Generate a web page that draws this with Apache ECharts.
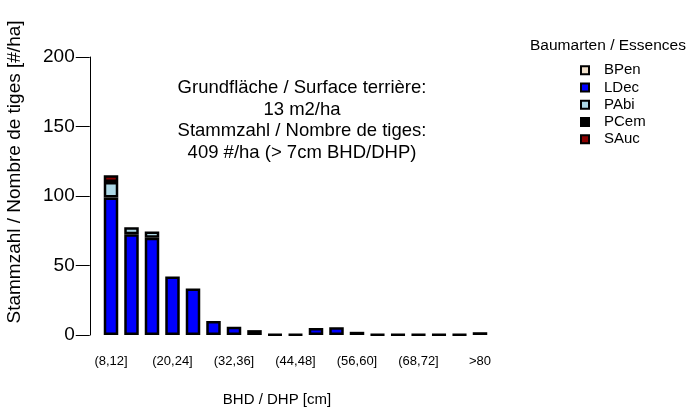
<!DOCTYPE html>
<html>
<head>
<meta charset="utf-8">
<script src="https://cdn.jsdelivr.net/npm/echarts@6/dist/echarts.min.js"></script>
<style>html,body{margin:0;padding:0;background:#fff}#c{width:689px;height:408px}</style>
</head>
<body>
<div id="c"></div>
<script>
const categories = ['(8,12]','(12,16]','(16,20]','(20,24]','(24,28]','(28,32]','(32,36]','(36,40]','(40,44]','(44,48]','(48,52]','(52,56]','(56,60]','(60,64]','(64,68]','(68,72]','(72,76]','(76,80]','>80'];
const speciesNames = ['BPen','LDec','PAbi','PCem','SAuc'];
const BPen = [null,null,null,null,null,null,null,null,null,null,null,null,null,null,null,null,null,null,null];
const LDec = [99,72.5,70,42,33.5,10,6,3.5,0.4,0.4,5,5.5,2.3,0.3,0.3,0.3,0.3,0.3,2];
const PAbi = [11,5,4.5,null,null,null,null,null,null,null,null,null,null,null,null,null,null,null,null];
const PCem = [null,null,null,null,null,null,null,null,null,null,null,null,null,null,null,null,null,null,null];
const SAuc = [5,null,null,null,null,null,null,null,null,null,null,null,null,null,null,null,null,null,null];
const yTicks = [0,50,100,150,200];
const infoLines = ['Grundfläche / Surface terrière:','13 m2/ha','Stammzahl / Nombre de tiges:','409 #/ha (> 7cm BHD/DHP)'];
const yTitle = 'Stammzahl / Nombre de tiges [#/ha]';
const xTitle = 'BHD / DHP [cm]';
const legendTitle = 'Baumarten / Essences';

const FONT = '"Liberation Sans", Arial, Helvetica, sans-serif';
const colors = {BPen:'#F2E2CC', LDec:'#0000FF', PAbi:'#ADD8E6', PCem:'#000000', SAuc:'#8B0000'};
const seriesData = {BPen, LDec, PAbi, PCem, SAuc};

const chart = echarts.init(document.getElementById('c'), null, {renderer:'canvas'});
const series = speciesNames.map(n => ({
  name: n,
  type: 'bar',
  stack: 'all',
  barWidth: 14.5,
  data: seriesData[n].map(v => v == null ? '-' : v),
  itemStyle: {color: colors[n], borderColor: '#000', borderWidth: 2.5},
  emphasis: {disabled: true},
  animation: false
}));

const graphics = infoLines.map((t, i) => ({
  type: 'text',
  x: 302, y: 88 + i * 21.6,
  style: {text: t, font: '18.5px ' + FONT, fill: '#000', textAlign: 'center', textVerticalAlign: 'middle'}
}));
graphics.push({
  type: 'text', x: 15, y: 172, rotation: Math.PI / 2,
  style: {text: yTitle, font: '19px ' + FONT, fill: '#000', textAlign: 'center', textVerticalAlign: 'middle'}
});
graphics.push({
  type: 'text', x: 277, y: 400,
  style: {text: xTitle, font: '15px ' + FONT, fill: '#000', textAlign: 'center', textVerticalAlign: 'middle'}
});
graphics.push({
  type: 'text', x: 608, y: 46,
  style: {text: legendTitle, font: '15.5px ' + FONT, fill: '#000', textAlign: 'center', textVerticalAlign: 'middle'}
});

chart.setOption({
  animation: false,
  backgroundColor: '#fff',
  textStyle: {fontFamily: FONT},
  grid: {left: 100.75, width: 389.5, top: 57, height: 278, containLabel: false},
  xAxis: {
    type: 'category', data: categories,
    axisLine: {show: false}, axisTick: {show: false},
    axisLabel: {interval: 2, fontSize: 13, color: '#000', margin: 19.5, fontFamily: FONT}
  },
  yAxis: {
    type: 'value', min: yTicks[0], max: yTicks[yTicks.length - 1], interval: 50,
    offset: 11,
    axisLine: {show: true, lineStyle: {color: '#000', width: 1}},
    axisTick: {show: true, length: 14, lineStyle: {color: '#000', width: 1}},
    axisLabel: {fontSize: 19, color: '#000', margin: 15, fontFamily: FONT},
    splitLine: {show: false}
  },
  legend: {
    orient: 'vertical', left: 580, top: 61.5, padding: 0,
    data: speciesNames,
    itemWidth: 8, itemHeight: 8, itemGap: 0,
    icon: 'rect',
    selectedMode: false,
    textStyle: {fontSize: 15, color: '#000', fontFamily: FONT, lineHeight: 17.3, padding: [0, 0, 0, 10]}
  },
  graphic: graphics,
  series: series
});
</script>
</body>
</html>
